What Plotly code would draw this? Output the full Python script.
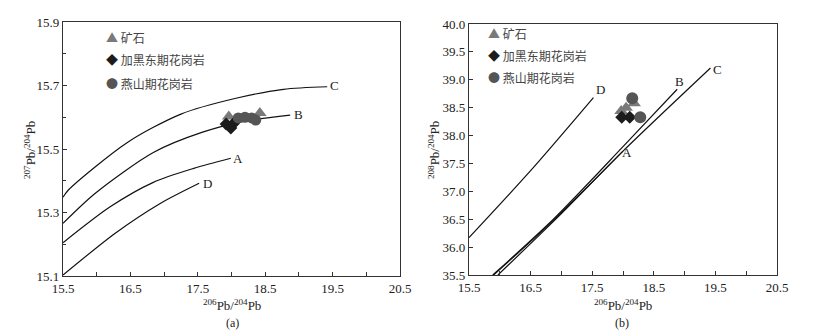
import plotly.graph_objects as go

# ---------------- data: (a) 207Pb/204Pb vs 206Pb/204Pb ----------------
a_C_x = [15.5, 15.58, 16.45, 17.25, 18.05, 18.77, 19.42]
a_C_y = [15.348, 15.371, 15.52, 15.61, 15.659, 15.688, 15.696]
a_B_x = [15.5, 15.975, 16.84, 17.57, 18.2, 18.87]
a_B_y = [15.266, 15.36, 15.489, 15.553, 15.588, 15.607]
a_A_x = [15.5, 16.2, 16.84, 17.44, 17.99]
a_A_y = [15.205, 15.318, 15.395, 15.439, 15.471]
a_D_x = [15.5, 16.27, 16.93, 17.52]
a_D_y = [15.103, 15.234, 15.327, 15.392]

a_ore_x = [17.96, 18.42]
a_ore_y = [15.602, 15.613]
a_jhd_x = [17.92, 17.99, 18.03]
a_jhd_y = [15.579, 15.566, 15.580]
a_ys_x = [18.10, 18.20, 18.30, 18.36]
a_ys_y = [15.598, 15.600, 15.598, 15.591]

# ---------------- data: (b) 208Pb/204Pb vs 206Pb/204Pb ----------------
b_C_x = [15.97, 17.0, 18.0, 19.42]
b_C_y = [35.5, 36.6, 37.72, 39.21]
b_B_x = [15.885, 16.87, 18.0, 18.88]
b_B_y = [35.5, 36.5, 37.8, 38.83]
b_A_x = [15.9, 16.87, 18.0]
b_A_y = [35.5, 36.48, 37.72]
b_D_x = [15.5, 16.5, 17.52]
b_D_y = [36.17, 37.37, 38.68]

b_ore_x = [17.97, 18.05, 18.18]
b_ore_y = [38.44, 38.50, 38.58]
b_jhd_x = [17.98, 18.11]
b_jhd_y = [38.33, 38.33]
b_ys_x = [18.15, 18.28]
b_ys_y = [38.67, 38.33]

curve_labels = ["A", "B", "C", "D"]
a_label_x = [18.1, 19.0, 19.53, 17.64]
a_label_y = [15.47, 15.61, 15.70, 15.39]
b_label_x = [18.07, 18.92, 19.53, 17.63]
b_label_y = [37.69, 38.97, 39.19, 38.82]

legend_names = ["矿石", "加黑东期花岗岩", "燕山期花岗岩"]
legend_syms = ["▲", "◆", "●"]
sym_colors = ["#7a7a7a", "#1c1c1c", "#555555"]
sym_names = ["triangle-up", "diamond", "circle"]

a_xticks = [15.5, 16.5, 17.5, 18.5, 19.5, 20.5]
a_yticks = [15.1, 15.3, 15.5, 15.7, 15.9]
b_yticks = [35.5, 36.0, 36.5, 37.0, 37.5, 38.0, 38.5, 39.0, 39.5, 40.0]

SERIF = "Liberation Serif"
CJK = "Noto Sans CJK SC"

fig = go.Figure()

def add_curves(xs_list, ys_list, xa, ya):
    for xs, ys in zip(xs_list, ys_list):
        fig.add_trace(go.Scatter(
            x=xs, y=ys, mode="lines", xaxis=xa, yaxis=ya, showlegend=False,
            line=dict(color="#111111", width=1.2, shape="spline", smoothing=0.8),
            hoverinfo="skip"))

add_curves([a_C_x, a_B_x, a_A_x, a_D_x], [a_C_y, a_B_y, a_A_y, a_D_y], "x", "y")
add_curves([b_C_x, b_B_x, b_A_x, b_D_x], [b_C_y, b_B_y, b_A_y, b_D_y], "x2", "y2")

def add_points(sets, xa, ya, sizes):
    for (xs, ys), sym, col, sz in zip(sets, sym_names, sym_colors, sizes):
        fig.add_trace(go.Scatter(
            x=xs, y=ys, mode="markers", xaxis=xa, yaxis=ya, showlegend=False,
            marker=dict(symbol=sym, color=col, size=sz, line=dict(width=0))))

add_points([(a_ore_x, a_ore_y), (a_jhd_x, a_jhd_y), (a_ys_x, a_ys_y)], "x", "y", [12, 10, 11])
add_points([(b_ore_x, b_ore_y), (b_jhd_x, b_jhd_y), (b_ys_x, b_ys_y)], "x2", "y2", [12, 10, 12])

annotations = []
for lab, lx, ly in zip(curve_labels, a_label_x, a_label_y):
    annotations.append(dict(x=lx, y=ly, xref="x", yref="y", text=lab, showarrow=False,
                            xanchor="center", yanchor="middle",
                            font=dict(family=SERIF, size=13, color="#222")))
for lab, lx, ly in zip(curve_labels, b_label_x, b_label_y):
    annotations.append(dict(x=lx, y=ly, xref="x2", yref="y2", text=lab, showarrow=False,
                            xanchor="center", yanchor="middle",
                            font=dict(family=SERIF, size=13, color="#222")))

W, H = 827, 335
def px(xp):
    return xp / W
def py(yp):
    return 1 - yp / H

# legends drawn as text lines
leg_a_y = [37, 60, 83]
leg_b_y = [33, 56, 78]
for i, name in enumerate(legend_names):
    for x0, yy in ((104, leg_a_y[i]), (486, leg_b_y[i])):
        annotations.append(dict(
            x=px(x0), y=py(yy), xref="paper", yref="paper", xanchor="left", yanchor="middle",
            showarrow=False,
            text=f"<span style='color:{sym_colors[i]}'>{legend_syms[i]}</span> {name}",
            font=dict(family=CJK, size=12, color="#444")))

def center_ann(x, y, text, size=13, angle=0):
    return dict(x=px(x), y=py(y), xref="paper", yref="paper", showarrow=False,
                xanchor="center", yanchor="middle", textangle=angle, text=text,
                font=dict(family=SERIF, size=size, color="#222"))

annotations += [
    center_ann(232, 305, "<sup>206</sup>Pb/<sup>204</sup>Pb"),
    center_ann(623, 305, "<sup>206</sup>Pb/<sup>204</sup>Pb"),
    center_ann(30, 150, "<sup>207</sup>Pb/<sup>204</sup>Pb", angle=-90),
    center_ann(434, 150, "<sup>208</sup>Pb/<sup>204</sup>Pb", angle=-90),
    center_ann(232, 323, "(a)", size=12),
    center_ann(622, 323, "(b)", size=12),
]

axis_common = dict(showgrid=False, zeroline=False, showline=True, linecolor="#333",
                   linewidth=1.3, mirror=True, ticks="inside", ticklen=4, tickcolor="#333",
                   automargin=False,
                   tickfont=dict(family=SERIF, size=13, color="#222"))

fig.update_layout(
    width=W, height=H, margin=dict(l=0, r=0, t=0, b=0, autoexpand=False),
    paper_bgcolor="white", plot_bgcolor="white", showlegend=False,
    xaxis=dict(domain=[px(63), px(400)], range=[15.5, 20.5], tickvals=a_xticks,
               ticktext=[f"{v:.1f}" for v in a_xticks], anchor="y",
               minor=dict(dtick=0.5, tick0=15.5, ticks="inside", ticklen=4, tickcolor="#333"),
               **axis_common),
    yaxis=dict(domain=[py(276), py(22)], range=[15.1, 15.9], tickvals=a_yticks,
               ticktext=[f"{v:.1f}" for v in a_yticks], anchor="x",
               minor=dict(dtick=0.1, tick0=15.1, ticks="inside", ticklen=3, tickcolor="#333"),
               **axis_common),
    xaxis2=dict(domain=[px(469), px(777)], range=[15.5, 20.5], tickvals=a_xticks,
                ticktext=[f"{v:.1f}" for v in a_xticks], anchor="y2",
                minor=dict(dtick=0.5, tick0=15.5, ticks="inside", ticklen=4, tickcolor="#333"),
                **axis_common),
    yaxis2=dict(domain=[py(275), py(24)], range=[35.5, 40.0], tickvals=b_yticks,
                ticktext=[f"{v:.1f}" for v in b_yticks], anchor="x2",
                **axis_common),
    annotations=annotations,
)

fig.write_html("out.html", config={"displayModeBar": False},
               post_script="document.body.style.margin='0px';document.body.style.overflow='hidden';")
